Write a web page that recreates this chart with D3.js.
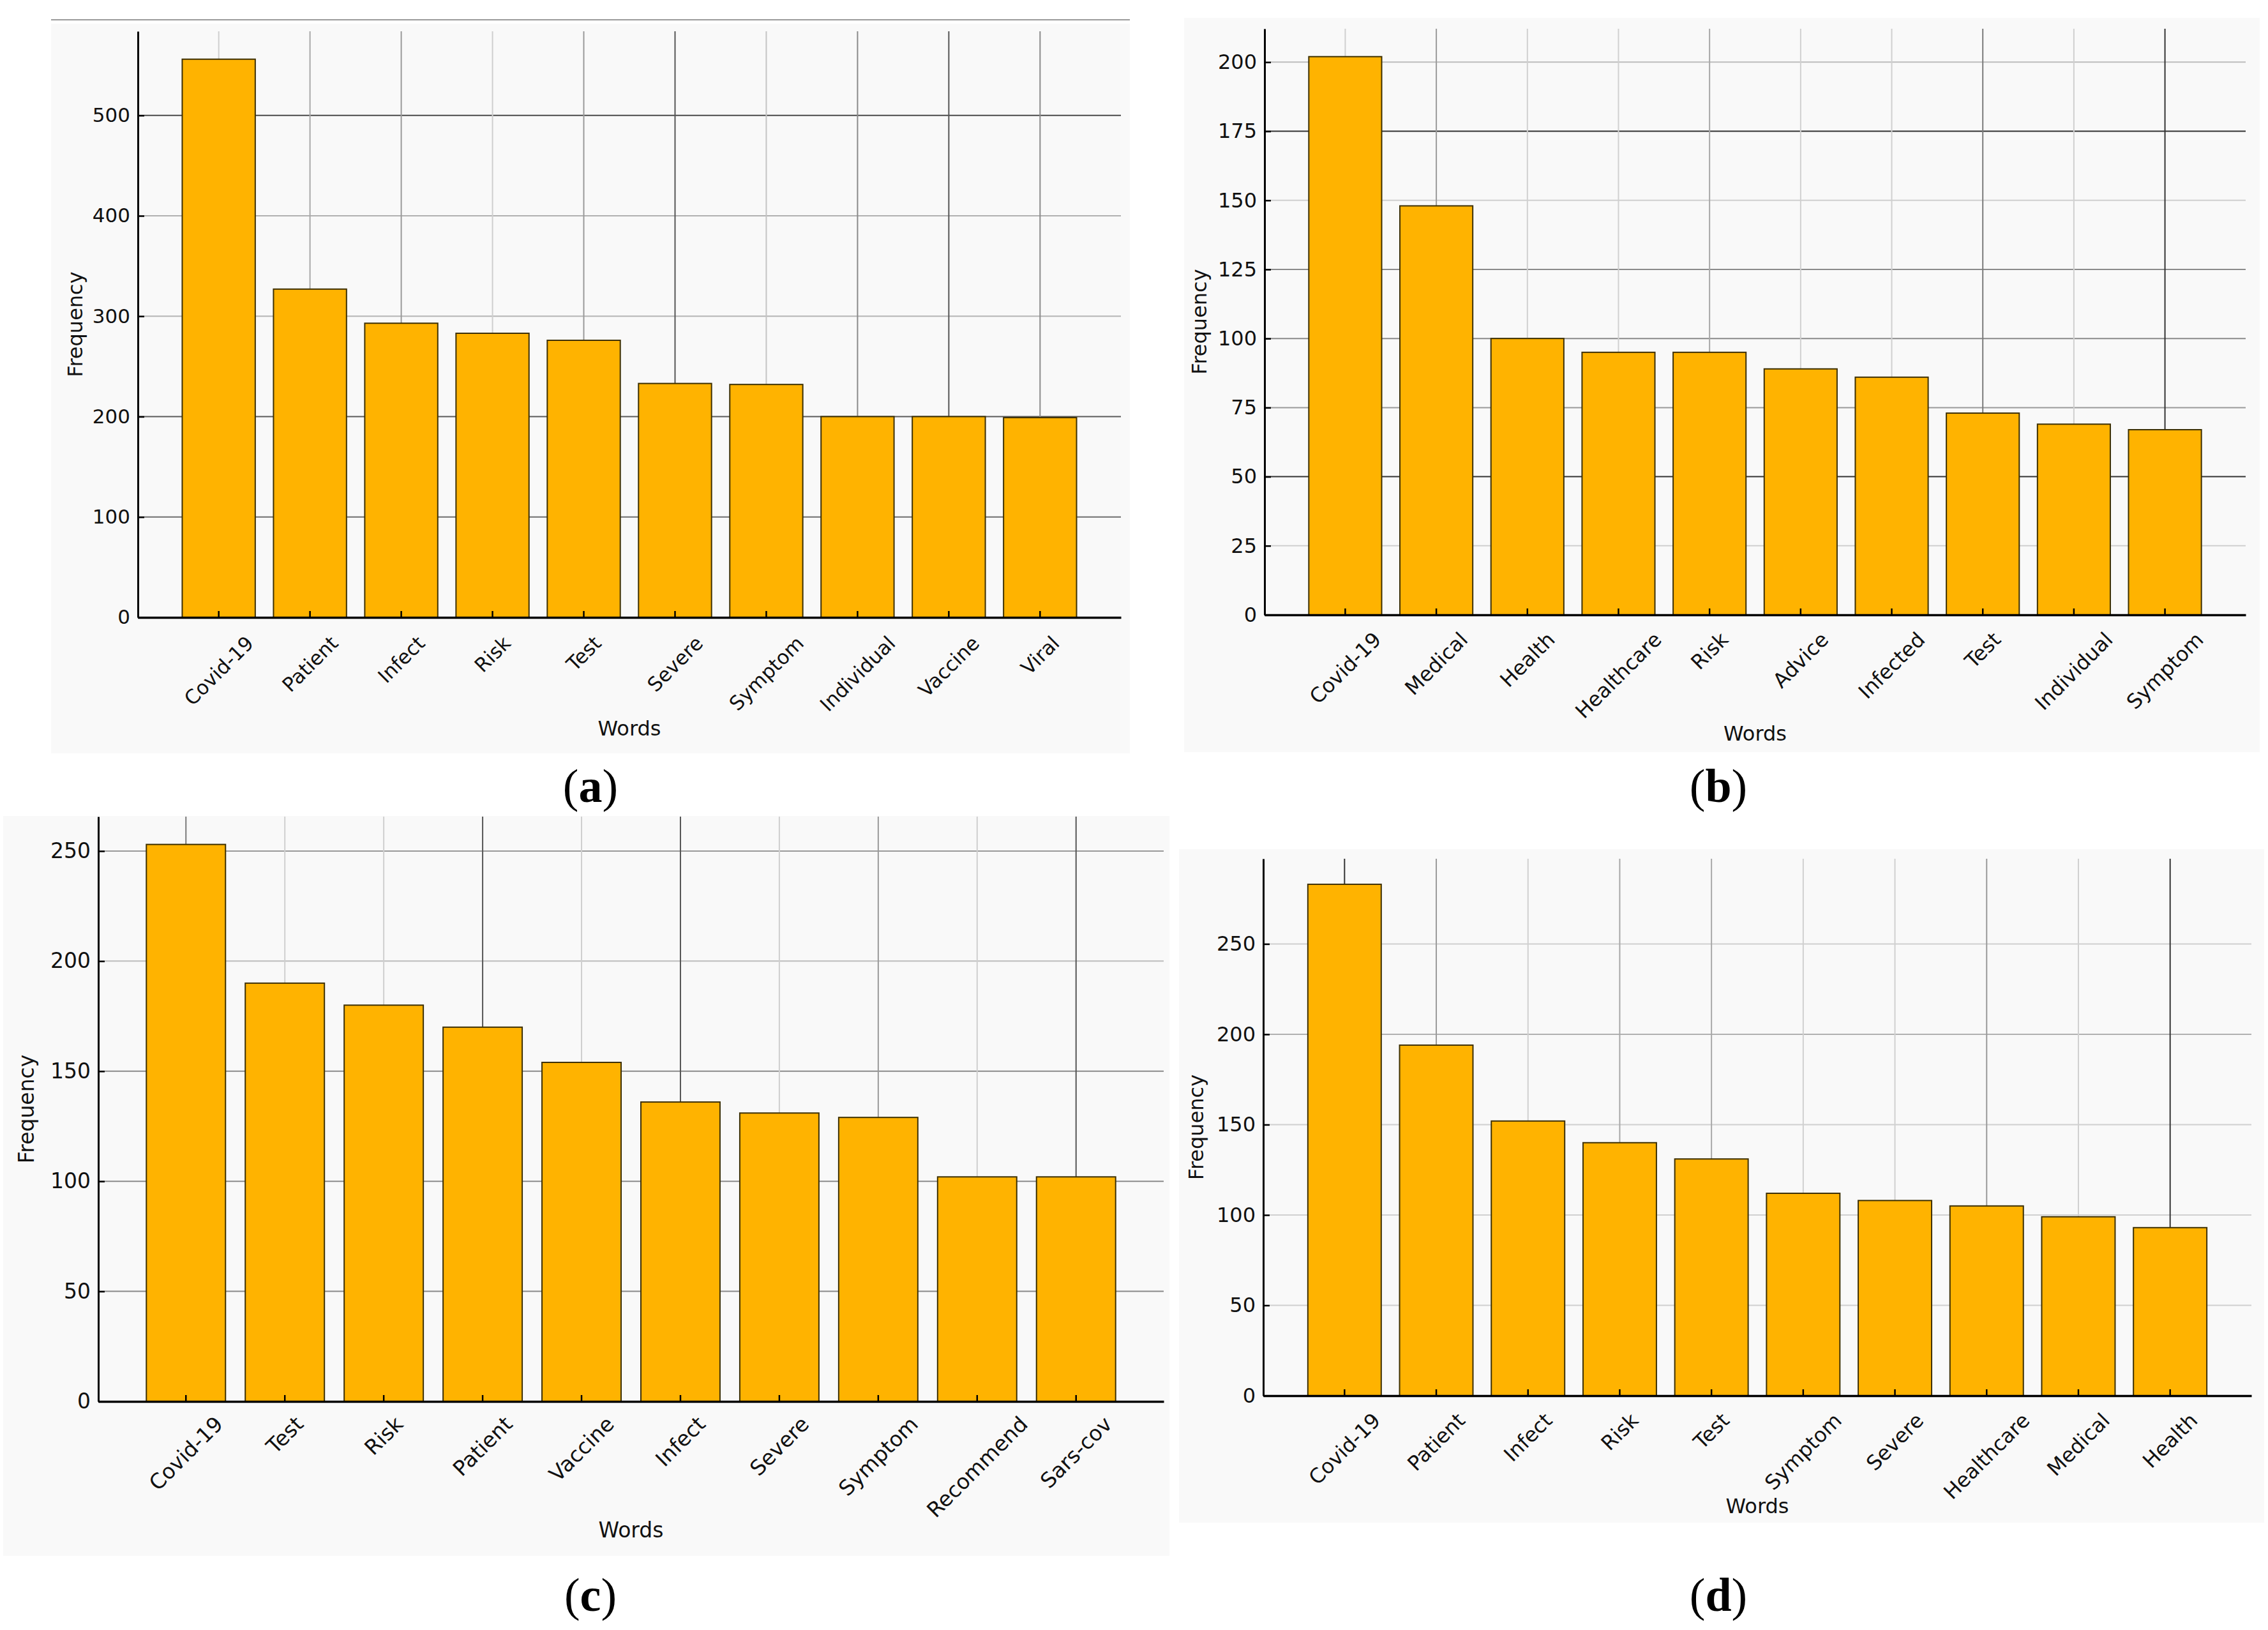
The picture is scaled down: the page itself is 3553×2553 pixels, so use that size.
<!DOCTYPE html>
<html>
<head>
<meta charset="utf-8">
<script src="https://cdn.jsdelivr.net/npm/d3@7"></script>
<style>
  body { margin: 0; background: #ffffff; }
  svg { display: block; }
</style>
</head>
<body>
<svg id="fig"></svg>
<script>
// ---- data ----
var wordsA = ["Covid-19", "Patient", "Infect", "Risk", "Test", "Severe", "Symptom", "Individual", "Vaccine", "Viral"];
var countsA = [556, 327, 293, 283, 276, 233, 232, 200, 200, 199];
var ticksA = [0, 100, 200, 300, 400, 500];

var wordsB = ["Covid-19", "Medical", "Health", "Healthcare", "Risk", "Advice", "Infected", "Test", "Individual", "Symptom"];
var countsB = [202, 148, 100, 95, 95, 89, 86, 73, 69, 67];
var ticksB = [0, 25, 50, 75, 100, 125, 150, 175, 200];

var wordsC = ["Covid-19", "Test", "Risk", "Patient", "Vaccine", "Infect", "Severe", "Symptom", "Recommend", "Sars-cov"];
var countsC = [253, 190, 180, 170, 154, 136, 131, 129, 102, 102];
var ticksC = [0, 50, 100, 150, 200, 250];

var wordsD = ["Covid-19", "Patient", "Infect", "Risk", "Test", "Symptom", "Severe", "Healthcare", "Medical", "Health"];
var countsD = [283, 194, 152, 140, 131, 112, 108, 105, 99, 93];
var ticksD = [0, 50, 100, 150, 200, 250];

var panelLetters = ["a", "b", "c", "d"];

var W = 3553, H = 2553;
var barColor = "#FFB300";
var fontFamily = "'DejaVu Sans', Verdana, sans-serif";

var svg = d3.select("#fig")
    .attr("width", W)
    .attr("height", H)
    .attr("viewBox", "0 0 " + W + " " + H);

svg.append("rect")
    .attr("width", W)
    .attr("height", H)
    .attr("fill", "#ffffff");

// layout of each panel (pixel boxes) and the grid shades of the upscaled image
var panels = [
    { words: wordsA, counts: countsA, ticks: ticksA, letter: panelLetters[0],
      plot: { left: 216, top: 49, right: 1756, bottom: 967 },
      bg: { x: 80, y: 37, x2: 1770, y2: 1180 }, topLine: true,
      font: 31, labelFont: 32, pad: 22,
      wordsY: 1152, freqX: 118, letterX: 925, letterY: 1256,
      xShade: ["#cfcfcf", "#a8a8a8", "#9a9a9a", "#cfcfcf", "#9a9a9a", "#555", "#c4c4c4", "#8a8a8a", "#555", "#8a8a8a"],
      yShade: [null, "#6e6e6e", "#5a5a5a", "#b5b5b5", "#b0b0b0", "#4a4a4a"] },
    { words: wordsB, counts: countsB, ticks: ticksB, letter: panelLetters[1],
      plot: { left: 1981, top: 45, right: 3518, bottom: 963 },
      bg: { x: 1855, y: 28, x2: 3540, y2: 1178 }, topLine: false,
      font: 32, labelFont: 32, pad: 20,
      wordsY: 1160, freqX: 1879, letterX: 2692, letterY: 1256,
      xShade: ["#d0d0d0", "#9a9a9a", "#d0d0d0", "#d0d0d0", "#a8a8a8", "#d0d0d0", "#d0d0d0", "#7a7a7a", "#d0d0d0", "#333"],
      yShade: [null, "#cfcfcf", "#333", "#9a9a9a", "#8a8a8a", "#8a8a8a", "#cfcfcf", "#333", "#bdbdbd"] },
    { words: wordsC, counts: countsC, ticks: ticksC, letter: panelLetters[2],
      plot: { left: 154, top: 1279, right: 1823, bottom: 2195 },
      bg: { x: 5, y: 1278, x2: 1832, y2: 2437 }, topLine: false,
      font: 33, labelFont: 33, pad: 16,
      wordsY: 2408, freqX: 41, letterX: 925, letterY: 2523,
      xShade: ["#7a7a7a", "#cfcfcf", "#cfcfcf", "#555", "#cfcfcf", "#555", "#cfcfcf", "#9a9a9a", "#cfcfcf", "#555"],
      yShade: [null, "#8a8a8a", "#8a8a8a", "#8a8a8a", "#bdbdbd", "#9a9a9a"] },
    { words: wordsD, counts: countsD, ticks: ticksD, letter: panelLetters[3],
      plot: { left: 1979, top: 1345, right: 3527, bottom: 2186 },
      bg: { x: 1847, y: 1330, x2: 3547, y2: 2385 }, topLine: false,
      font: 32, labelFont: 32, pad: 20,
      wordsY: 2370, freqX: 1874, letterX: 2692, letterY: 2523,
      xShade: ["#333", "#9a9a9a", "#d0d0d0", "#a8a8a8", "#a8a8a8", "#d0d0d0", "#d0d0d0", "#9a9a9a", "#d0d0d0", "#333"],
      yShade: [null, "#d0d0d0", "#d0d0d0", "#d0d0d0", "#b0b0b0", "#d0d0d0"] }
];

function drawPanel(p) {
    var pw = p.plot.right - p.plot.left;
    var ph = p.plot.bottom - p.plot.top;

    // faint background of the pasted figure
    svg.append("rect")
        .attr("x", p.bg.x)
        .attr("y", p.bg.y)
        .attr("width", p.bg.x2 - p.bg.x)
        .attr("height", p.bg.y2 - p.bg.y)
        .attr("fill", "#f9f9f9");

    if (p.topLine) {
        svg.append("line")
            .attr("x1", p.bg.x).attr("x2", p.bg.x2)
            .attr("y1", p.bg.y - 6).attr("y2", p.bg.y - 6)
            .attr("stroke", "#9a9a9a")
            .attr("stroke-width", 2);
    }

    var g = svg.append("g")
        .attr("transform", "translate(" + p.plot.left + "," + p.plot.top + ")");

    var x = d3.scaleBand()
        .domain(p.words)
        .range([0, pw])
        .paddingInner(0.2)
        .paddingOuter(0.486);

    var y = d3.scaleLinear()
        .domain([0, d3.max(p.counts) * 1.05])
        .range([ph, 0]);

    // grid lines
    g.selectAll(".hgrid")
        .data(p.ticks.filter(function(d, i) { return p.yShade[i]; }))
        .enter()
        .append("line")
        .attr("x1", 0)
        .attr("x2", pw)
        .attr("y1", function(d) { return y(d); })
        .attr("y2", function(d) { return y(d); })
        .attr("stroke", function(d) { return p.yShade[p.ticks.indexOf(d)]; })
        .attr("stroke-width", 2);

    g.selectAll(".vgrid")
        .data(p.words)
        .enter()
        .append("line")
        .attr("x1", function(d) { return x(d) + x.bandwidth() / 2; })
        .attr("x2", function(d) { return x(d) + x.bandwidth() / 2; })
        .attr("y1", 0)
        .attr("y2", ph)
        .attr("stroke", function(d, i) { return p.xShade[i]; })
        .attr("stroke-width", 2);

    // bars
    g.selectAll(".bar")
        .data(p.words)
        .enter()
        .append("rect")
        .attr("x", function(d) { return x(d); })
        .attr("y", function(d, i) { return y(p.counts[i]); })
        .attr("width", x.bandwidth())
        .attr("height", function(d, i) { return ph - y(p.counts[i]); })
        .attr("fill", barColor)
        .attr("stroke", "#3d3000")
        .attr("stroke-width", 2);

    // y axis, ticks pointing inward
    var yAxis = d3.axisLeft(y)
        .tickValues(p.ticks)
        .tickFormat(d3.format("d"))
        .tickSizeInner(-10)
        .tickSizeOuter(0)
        .tickPadding(12);

    var yg = g.append("g").call(yAxis);
    yg.select(".domain").attr("stroke", "#000").attr("stroke-width", 3);
    yg.selectAll(".tick line").attr("stroke", "#000").attr("stroke-width", 2.5);
    yg.selectAll(".tick text")
        .style("font-family", fontFamily)
        .style("font-size", p.font + "px")
        .attr("fill", "#111");

    // x axis with 45 degree labels centred under each bar
    var xAxis = d3.axisBottom(x)
        .tickSizeInner(-10)
        .tickSizeOuter(0)
        .tickPadding(0);

    var xg = g.append("g")
        .attr("transform", "translate(0," + ph + ")")
        .call(xAxis);
    xg.select(".domain").attr("stroke", "#000").attr("stroke-width", 3.5);
    xg.selectAll(".tick line").attr("stroke", "#000").attr("stroke-width", 2.5);
    xg.selectAll(".tick text")
        .style("font-family", fontFamily)
        .style("font-size", p.font + "px")
        .attr("fill", "#111")
        .attr("y", 0)
        .attr("dy", null)
        .attr("text-anchor", "middle")
        .attr("dominant-baseline", "central")
        .each(function() {
            var len = this.getComputedTextLength();
            var hgt = p.font * 1.164;
            var off = p.pad + (len + hgt) / (2 * Math.SQRT2);
            d3.select(this).attr("transform", "translate(0," + off + ") rotate(-45)");
        });

    // axis titles
    svg.append("text")
        .text("Words")
        .attr("x", p.plot.left + pw / 2)
        .attr("y", p.wordsY)
        .attr("text-anchor", "middle")
        .style("font-family", fontFamily)
        .style("font-size", p.labelFont + "px")
        .attr("fill", "#111");

    svg.append("text")
        .text("Frequency")
        .attr("transform", "translate(" + p.freqX + "," + (p.plot.top + ph / 2) + ") rotate(-90)")
        .attr("text-anchor", "middle")
        .attr("dominant-baseline", "central")
        .style("font-family", fontFamily)
        .style("font-size", p.labelFont + "px")
        .attr("fill", "#111");

    // panel letter
    var lab = svg.append("text")
        .attr("x", p.letterX)
        .attr("y", p.letterY)
        .attr("text-anchor", "middle")
        .style("font-family", "'Liberation Serif', 'DejaVu Serif', serif")
        .style("font-size", "74px")
        .attr("fill", "#000");
    lab.append("tspan").text("(");
    lab.append("tspan").text(p.letter).style("font-weight", "bold");
    lab.append("tspan").text(")");
}

panels.forEach(drawPanel);
</script>
</body>
</html>
